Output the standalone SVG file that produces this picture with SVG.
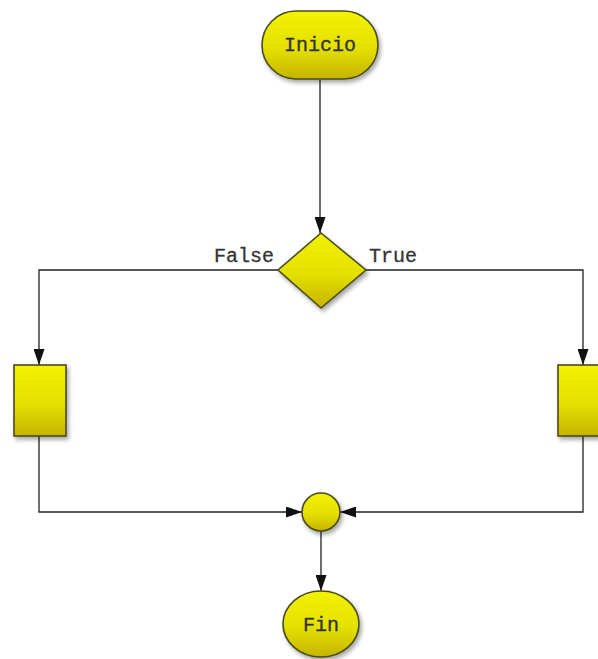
<svg xmlns="http://www.w3.org/2000/svg" width="598" height="659" viewBox="0 0 598 659">
  <defs>
    <linearGradient id="yellowFill" x1="0" y1="0" x2="0" y2="1">
      <stop offset="0" stop-color="#f2f200"/>
      <stop offset="0.55" stop-color="#e4e000"/>
      <stop offset="1" stop-color="#c4b400"/>
    </linearGradient>
    <filter id="shadow" x="-20%" y="-20%" width="150%" height="150%">
      <feGaussianBlur in="SourceAlpha" stdDeviation="2"/>
      <feOffset dx="2" dy="3" result="blur"/>
      <feComponentTransfer><feFuncA type="linear" slope="0.35"/></feComponentTransfer>
      <feMerge><feMergeNode/><feMergeNode in="SourceGraphic"/></feMerge>
    </filter>
    <marker id="arrow" viewBox="0 0 16 11" refX="16" refY="5.5" markerWidth="16" markerHeight="11" markerUnits="userSpaceOnUse" orient="auto">
      <path d="M0,0 L16,5.5 L0,11 Z" fill="#111"/>
    </marker>
  </defs>
  <style>
    .shape { fill: url(#yellowFill); stroke: #4a4a18; stroke-width: 1.6; filter: url(#shadow); }
    .edge { fill: none; stroke: #222; stroke-width: 1.3; }
    .label { font-family: "Liberation Mono", "Courier New", monospace; font-size: 20px; fill: #333; stroke: #333; stroke-width: 0.3; }
  </style>
  <rect width="598" height="659" fill="#ffffff"/>

  <g id="connectors">
    <path class="edge" d="M320,80 L320,233" marker-end="url(#arrow)"/>
    <path class="edge" d="M278,270 L39,270 L39,365" marker-end="url(#arrow)"/>
    <path class="edge" d="M366,270 L583,270 L583,365" marker-end="url(#arrow)"/>
    <path class="edge" d="M39,436 L39,512 L302,512" marker-end="url(#arrow)"/>
    <path class="edge" d="M583,436 L583,512 L340,512" marker-end="url(#arrow)"/>
    <path class="edge" d="M321,531 L321,591" marker-end="url(#arrow)"/>
    <text class="label" x="274" y="262" text-anchor="end">False</text>
    <text class="label" x="369" y="262">True</text>
  </g>

  <g id="inicio">
    <rect class="shape" x="262" y="11" width="116" height="68" rx="34" ry="34"/>
    <text class="label" x="320" y="51" text-anchor="middle">Inicio</text>
  </g>

  <g id="decision">
    <polygon class="shape" points="321,233 366,270 321,308 278,270"/>
  </g>

  <g id="branch-false">
    <rect class="shape" x="14" y="365" width="52" height="71"/>
  </g>

  <g id="branch-true">
    <rect class="shape" x="558" y="365" width="52" height="71"/>
  </g>

  <g id="merge">
    <circle class="shape" cx="321" cy="512" r="19"/>
  </g>

  <g id="fin">
    <ellipse class="shape" cx="321" cy="624" rx="38" ry="33"/>
    <text class="label" x="321" y="631" text-anchor="middle">Fin</text>
  </g>
</svg>
